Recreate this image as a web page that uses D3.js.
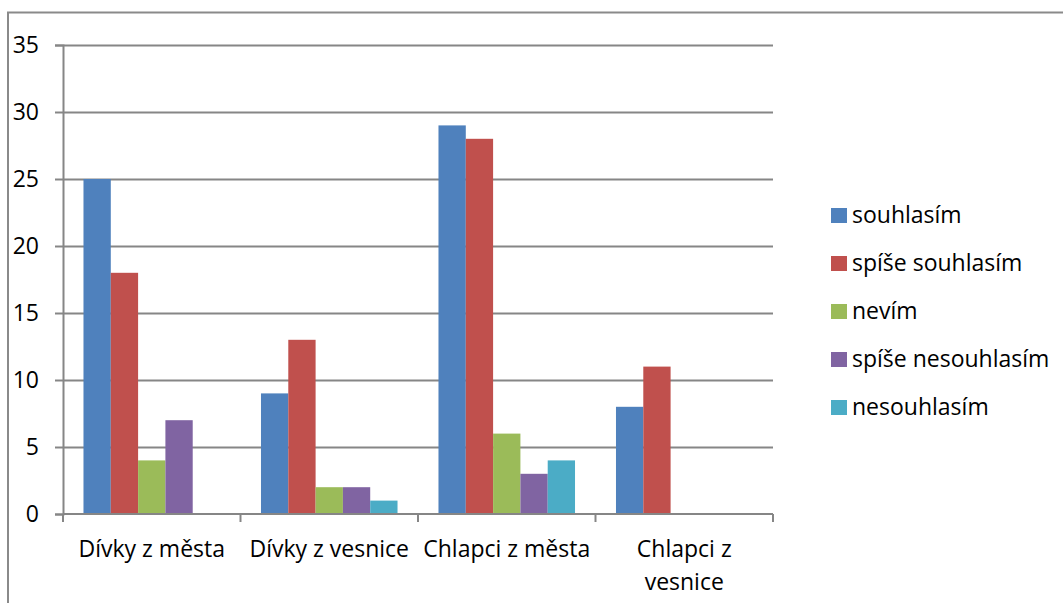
<!DOCTYPE html>
<html><head><meta charset="utf-8">
<script src="https://cdn.jsdelivr.net/npm/d3@7"></script>
<style>body{margin:0;background:#fff}svg{display:block}</style>
</head><body>
<svg id="c" width="1063" height="603"></svg>
<script>
const categories = ["Dívky z města", "Dívky z vesnice", "Chlapci z města", "Chlapci z vesnice"];
const seriesNames = ["souhlasím", "spíše souhlasím", "nevím", "spíše nesouhlasím", "nesouhlasím"];
const seriesColors = ["#4F81BD", "#C0504D", "#9BBB59", "#8064A2", "#4BACC6"];
const souhlasim = [25, 9, 29, 8];
const spiseSouhlasim = [18, 13, 28, 11];
const nevim = [4, 2, 6, 0];
const spiseNesouhlasim = [7, 2, 3, 0];
const nesouhlasim = [0, 1, 4, 0];
const yTicks = [0, 5, 10, 15, 20, 25, 30, 35];

const values = [souhlasim, spiseSouhlasim, nevim, spiseNesouhlasim, nesouhlasim];
const font = "'Open Sans', sans-serif";
const fs = 23;
const svg = d3.select("#c");
const axisColor = "#868686";

// outer chart border
svg.append("rect").attr("x", 8).attr("y", 12.5).attr("width", 1100).attr("height", 700)
  .attr("fill", "none").attr("stroke", "#8a8a8a").attr("stroke-width", 2);

const L = 63, R = 773, T = 45, B = 514;
const x0 = d3.scaleBand().domain(categories).range([L, R]).paddingInner(0).paddingOuter(0);
const bandW = x0.bandwidth();
const y = d3.scaleLinear().domain([0, 35]).range([B, T]);

// gridlines
svg.append("g").selectAll("line").data(yTicks.filter(d => d > 0)).join("line")
  .attr("x1", L).attr("x2", R).attr("y1", d => Math.round(y(d)) + 0.5).attr("y2", d => Math.round(y(d)) + 0.5)
  .attr("stroke", axisColor).attr("stroke-width", 2);

// bars (gap width 150%)
const barW = bandW / 6.5;
const groups = svg.append("g").selectAll("g").data(categories).join("g")
  .attr("transform", d => `translate(${x0(d)},0)`);
groups.selectAll("rect").data((c, ci) => seriesNames.map((s, si) => ({ s, si, v: values[si][ci] })))
  .join("rect")
  .attr("x", d => bandW * 0.75 / 6.5 + d.si * barW)
  .attr("width", barW)
  .attr("y", d => y(d.v))
  .attr("height", d => B - y(d.v))
  .attr("fill", d => seriesColors[d.si]);

// y axis
const yAxis = d3.axisLeft(y).tickValues(yTicks).tickSize(8).tickPadding(16);
const gy = svg.append("g").attr("transform", `translate(${L},0)`).call(yAxis);
gy.select(".domain").attr("stroke", axisColor).attr("stroke-width", 2);
gy.selectAll(".tick line").attr("stroke", axisColor).attr("stroke-width", 2);
gy.selectAll("text").attr("font-family", font).attr("font-size", fs).attr("fill", "#000");

// x axis
const gx = svg.append("g").attr("transform", `translate(0,${B})`);
gx.append("line").attr("x1", L).attr("x2", R).attr("y1", 0).attr("y2", 0).attr("stroke", axisColor).attr("stroke-width", 2);
const bounds = categories.map(c => x0(c)).concat([R]);
gx.selectAll("line.t").data(bounds).join("line").attr("class", "t")
  .attr("x1", d => d).attr("x2", d => d).attr("y1", 0).attr("y2", 8)
  .attr("stroke", axisColor).attr("stroke-width", 2);
const catLines = [["Dívky z města"], ["Dívky z vesnice"], ["Chlapci z města"], ["Chlapci z", "vesnice"]];
gx.selectAll("text").data(categories).join("text")
  .attr("x", d => x0(d) + bandW / 2)
  .attr("y", 43)
  .attr("text-anchor", "middle").attr("font-family", font).attr("font-size", fs).attr("fill", "#000")
  .each(function (d, i) {
    const t = d3.select(this);
    catLines[i].forEach((ln, k) => t.append("tspan").attr("x", x0(d) + bandW / 2).attr("dy", k === 0 ? 0 : 33).text(ln));
  });

// legend
const leg = svg.append("g").selectAll("g").data(seriesNames).join("g")
  .attr("transform", (d, i) => `translate(831,${215.5 + i * 48})`);
leg.append("rect").attr("x", 0).attr("y", -7.5).attr("width", 16).attr("height", 15).attr("fill", (d, i) => seriesColors[i]);
leg.append("text").attr("x", 21).attr("y", 7).attr("font-family", font).attr("font-size", fs).attr("fill", "#000").text(d => d);
</script>
</body></html>
